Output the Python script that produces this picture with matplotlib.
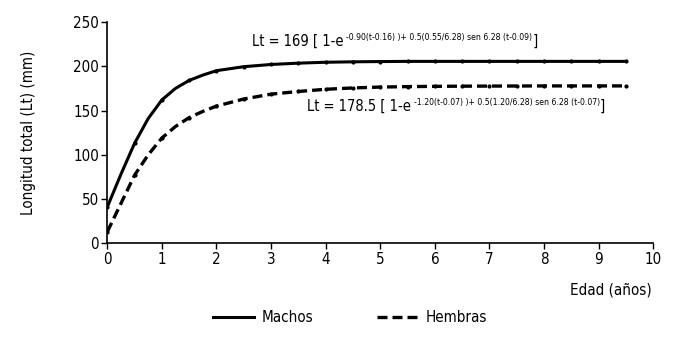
import matplotlib
matplotlib.use("Agg")
import matplotlib.pyplot as plt
from matplotlib import font_manager
from matplotlib.lines import Line2D

# condensed face if the system has one, else plain Liberation Sans
fuentes = {(f.name, f.stretch) for f in font_manager.fontManager.ttflist}
if any(n == 'Liberation Sans Narrow' for n, s in fuentes):
    plt.rcParams['font.family'] = ['Liberation Sans Narrow', 'DejaVu Sans']
    escala = 1.0
elif ('DejaVu Sans', 'condensed') in fuentes:
    plt.rcParams['font.family'] = ['DejaVu Sans']
    plt.rcParams['font.stretch'] = 'condensed'
    escala = 0.95
else:
    plt.rcParams['font.family'] = ['Liberation Sans', 'DejaVu Sans']
    escala = 0.9

# edad (anos) y longitud total (mm)
edad = [0, 0.25, 0.5, 0.75, 1, 1.25, 1.5, 1.75, 2, 2.5, 3, 3.5, 4, 4.5,
        5, 5.5, 6, 6.5, 7, 7.5, 8, 8.5, 9, 9.5]
machos = [41, 78, 113, 141, 162, 175, 184, 190, 195, 199.5, 202, 203.5, 204.5, 205,
          205.3, 205.5, 205.5, 205.5, 205.5, 205.5, 205.5, 205.5, 205.5, 205.5]
hembras = [13, 45, 77, 100, 119, 132, 142, 149, 155, 163, 168.5, 171.5, 174, 175.5,
           176.5, 177, 177.3, 177.5, 177.6, 177.7, 177.8, 177.8, 177.8, 177.8]

x_ticks = [0, 1, 2, 3, 4, 5, 6, 7, 8, 9, 10]
y_ticks = [0, 50, 100, 150, 200, 250]

eq_machos = ["Lt = 169 [ 1-e", "-0.90(t-0.16) )+ 0.5(0.55/6.28) sen 6.28 (t-0.09)", "]"]
eq_hembras = ["Lt = 178.5 [ 1-e", "-1.20(t-0.07) )+ 0.5(1.20/6.28) sen 6.28 (t-0.07)", "]"]

fs = 11.5 * escala
fs_eq = 11.1 * escala
fs_sup = 6.5 * escala

fig = plt.figure(figsize=(6.85, 3.38), dpi=100)
ax = fig.add_axes([0.1566, 0.280, 0.797, 0.655])

# markers only at each half year
marks = [i for i, t in enumerate(edad) if (t * 2) % 1 == 0]
ax.plot(edad, machos, color='black', lw=2.2, marker='o', ms=2, markevery=marks)
ax.plot(edad, hembras, color='black', lw=2.4, dashes=(3, 1.5), marker='o', ms=2,
        markevery=marks)

ax.set_xlim(0, 10)
ax.set_ylim(0, 250)
ax.set_xticks(x_ticks)
ax.set_yticks(y_ticks)
ax.spines['top'].set_visible(False)
ax.spines['right'].set_visible(False)
ax.spines['left'].set_linewidth(1.2)
ax.spines['bottom'].set_linewidth(1.2)
ax.tick_params(length=4, width=1, labelsize=fs, pad=2)

ax.set_ylabel('Longitud total (Lt) (mm)', fontsize=fs, labelpad=27)
fig.text(0.952, 0.142, 'Edad (años)', fontsize=fs, ha='right', va='center')


def ecuacion(parts, x, y):
    t1 = fig.text(x, y, parts[0], fontsize=fs_eq, va='baseline')
    t2 = ax.annotate(parts[1], xy=(1, 0.6), xycoords=t1, xytext=(2, 0),
                     textcoords='offset points', fontsize=fs_sup, va='baseline')
    ax.annotate(parts[2], xy=(1, 0), xycoords=(t2, t1), fontsize=fs_eq, va='bottom')


ecuacion(eq_machos, 252 / 685, 1 - 46 / 338)
ecuacion(eq_hembras, 307 / 685, 1 - 111 / 338)

handles = [Line2D([], [], color='black', lw=2.2),
           Line2D([], [], color='black', lw=2.4, dashes=(3, 1.5))]
fig.legend(handles, ['Machos', 'Hembras'], loc='center left',
           bbox_to_anchor=(199 / 685, 1 - 318 / 338), ncol=2, frameon=False,
           fontsize=fs, handlelength=2.7, handletextpad=0.5, columnspacing=4.2)

fig.savefig('out.png', dpi=100)
